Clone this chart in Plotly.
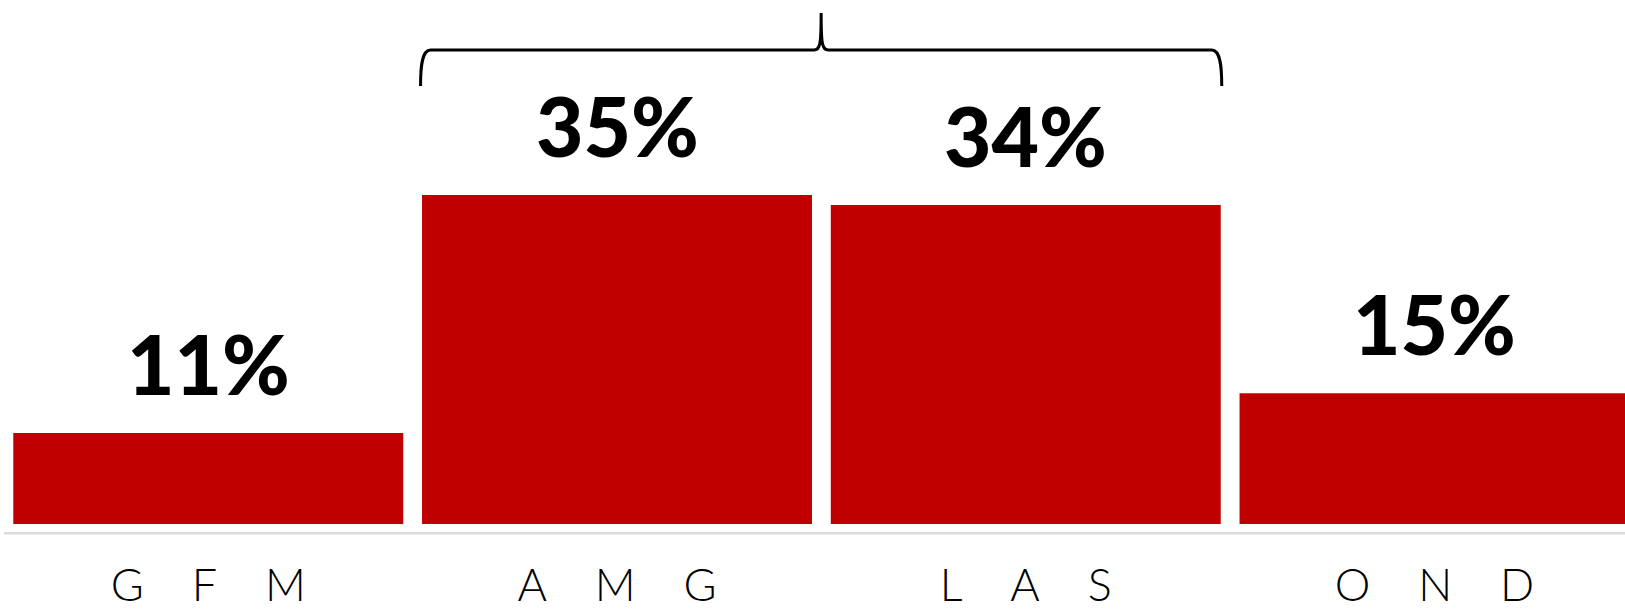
import plotly.graph_objects as go

# ---- data ----
SP = "\u2003\u2009\u2009\u200a"
categories = [SP.join("GFM"), SP.join("AMG"), SP.join("LAS"), SP.join("OND")]
values = [11, 35, 34, 15]
labels = ["11%", "35%", "34%", "15%"]

BAR_COLOR = "#C00000"
W, H = 1625, 612
MB = 88
bar_width = 0.954

x_range = [-0.5095, 3.466]
y_range = [1.824, 54.66]

xs = list(range(len(values)))

fig = go.Figure()
fig.add_trace(go.Bar(
    x=xs, y=values, width=bar_width,
    marker=dict(color=BAR_COLOR, line=dict(width=0)),
    hoverinfo="skip",
))

# value labels
for x, v, t in zip(xs, values, labels):
    fig.add_annotation(
        x=x, y=v, text=t, showarrow=False, xanchor="center", yanchor="bottom",
        yshift=19,
        font=dict(family="Lato", size=82, color="black", weight=900),
    )

# helpers to express pixel offsets in data units
plot_h = H - MB
px_per_x = W / (x_range[1] - x_range[0])
px_per_y = plot_h / (y_range[1] - y_range[0])

def dx(p):
    return p / px_per_x

def dy(p):
    return p / px_per_y

# brace over the two middle bars
i0, i1 = 1, 2
xl = i0 - bar_width / 2 - dx(1.5)
xr = i1 + bar_width / 2 + dx(1)
xm = (xl + xr) / 2
y_top_bar = max(values[i0], values[i1])
y_end = y_top_bar + dy(109)   # bottom of the brace arms
y_h = y_end + dy(36)          # horizontal line
y_tip = y_h + dy(37)          # central tip

path = (
    f"M {xl},{y_end} "
    f"C {xl},{y_h - dy(18)} {xl + dx(1)},{y_h} {xl + dx(10)},{y_h} "
    f"L {xm - dx(7)},{y_h} "
    f"C {xm - dx(1)},{y_h} {xm},{y_h + dy(6)} {xm},{y_tip} "
    f"C {xm},{y_h + dy(6)} {xm + dx(1)},{y_h} {xm + dx(7)},{y_h} "
    f"L {xr - dx(10)},{y_h} "
    f"C {xr - dx(1)},{y_h} {xr},{y_h - dy(18)} {xr},{y_end}"
)
fig.add_shape(type="path", path=path, xref="x", yref="y",
              line=dict(color="black", width=3), layer="above")

# light baseline below the bars
fig.add_shape(type="line", xref="paper", yref="paper",
              x0=4 / W, x1=1, y0=-9.3 / plot_h, y1=-9.3 / plot_h,
              line=dict(color="#DCDCDC", width=2.5))

fig.update_layout(
    width=W, height=H,
    margin=dict(l=0, r=0, t=0, b=MB, pad=0, autoexpand=False),
    paper_bgcolor="white", plot_bgcolor="white",
    showlegend=False,
    xaxis=dict(
        range=x_range, tickvals=xs, ticktext=categories,
        showgrid=False, zeroline=False, showline=False, ticks="",
        automargin=False,
        ticklabelstandoff=31,
        tickfont=dict(family="Lato", size=45, color="black", weight=300),
        fixedrange=True,
    ),
    yaxis=dict(range=y_range, visible=False, fixedrange=True, automargin=False),
)

fig.write_html("out.html")
